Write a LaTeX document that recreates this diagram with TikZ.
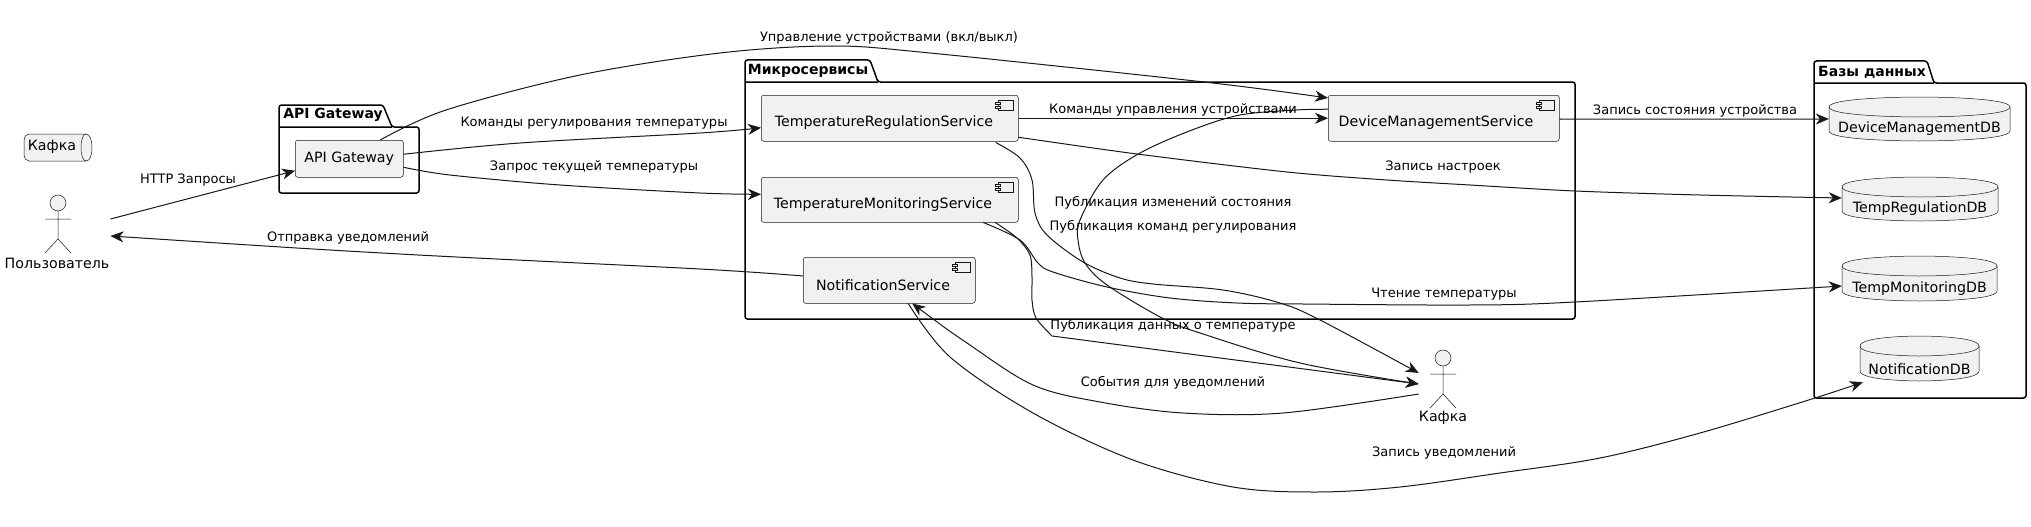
\documentclass[tikz,border=0pt]{standalone}
\usepackage{fontspec}
\setmainfont{DejaVu Sans}
\usetikzlibrary{arrows.meta,calc}
\definecolor{elfill}{HTML}{F1F1F1}
\definecolor{elline}{HTML}{181818}
\tikzset{
  every node/.style={font=\fontsize{14.2}{16}\selectfont,inner sep=0pt,text=black},
  elem/.style={draw=elline,fill=elfill,line width=0.5pt},
  pkg/.style={draw=black,line width=1.5pt,rounded corners=2.5pt},
  pkgtitle/.style={font=\fontsize{14}{16}\selectfont\bfseries},
  boxnode/.style={elem,rounded corners=2.5pt,anchor=north west},
  lbl/.style={font=\fontsize{13}{15}\selectfont},
  edge/.style={draw=elline,line width=1pt,-{Stealth[length=13pt,width=11pt,inset=4pt]}},
  edgerev/.style={draw=elline,line width=1pt,{Stealth[length=13pt,width=11pt,inset=4pt]}-},
}
% main rectangle and two tabs of the component icon, placed from a box's corner
\newcommand\compicon[1]{%
  \begin{scope}[shift={(#1.north east)}]
    \draw[elem] (-20,5) rectangle (-5,15);
    \draw[elem] (-23,7) rectangle (-18.5,9.5);
    \draw[elem] (-23,11) rectangle (-18.5,13.5);
  \end{scope}}
% database drum: x0,y0,x1,y1,name,text,text y
\newcommand\dbdrum[7]{%
  \draw[elem] (#1,#2+10) .. controls (#1,#2) and ({(#1+#3)/2},#2) .. ({(#1+#3)/2},#2)
     .. controls ({(#1+#3)/2},#2) and (#3,#2) .. (#3,#2+10)
     -- (#3,#4-10) .. controls (#3,#4) and ({(#1+#3)/2},#4) .. ({(#1+#3)/2},#4)
     .. controls ({(#1+#3)/2},#4) and (#1,#4) .. (#1,#4-10) -- cycle;
  \draw[elem,fill=none] (#1,#2+10) .. controls (#1,#2+20) and ({(#1+#3)/2},#2+20) .. ({(#1+#3)/2},#2+20)
     .. controls ({(#1+#3)/2},#2+20) and (#3,#2+20) .. (#3,#2+10);
  \node[minimum width={#3-#1},minimum height={#4-#2}] (#5) at ({(#1+#3)/2},{(#2+#4)/2}) {};
  \node (#5T) at ({(#1+#3)/2},#7) {#6};}
\newcommand\actorfig[3]{%
  \draw[elem] (#1,#2) ellipse (8 and 8);
  \draw[draw=elline,line width=0.5pt] (#1,#2+8) -- (#1,#2+36)
    (#1-13,#2+16) -- (#1+13,#2+16)
    (#1-13,#2+50) -- (#1,#2+36) -- (#1+13,#2+50);}
\begin{document}
\begin{tikzpicture}[x=1pt,y=-1pt]
\useasboundingbox[fill=white] (0,0) rectangle (2031,527);

% packages
\draw[pkg] (279,127) -- (279,105) -- (383,105) -- (392,127) -- (419,127) -- (419,193) -- (279,193) -- cycle (279,127) -- (392,127);
\node[pkgtitle] (pApi) at (333,115) {API Gateway};
\draw[pkg] (745,82) -- (745,60) -- (870,60) -- (878,82) -- (1575,82) -- (1575,319) -- (745,319) -- cycle (745,82) -- (878,82);
\node[pkgtitle] (pMicro) at (808,70.5) {Микросервисы};
\draw[pkg] (1814,83) -- (1814,61) -- (1927,61) -- (1934,83) -- (2026,83) -- (2026,398) -- (1814,398) -- cycle (1814,83) -- (1934,83);
\node[pkgtitle] (pDb) at (1872,72) {Базы данных};

% queue
\draw[elem] (29,134) -- (86,134) .. controls (90,134) and (92,140) .. (92,147.5)
   .. controls (92,155) and (90,161) .. (86,161) -- (29,161)
   .. controls (26,161) and (24,158) .. (24,155) -- (24,140) .. controls (24,137) and (26,134) .. (29,134) -- cycle;
\draw[elem,fill=none] (86,134) .. controls (83,134) and (81,140) .. (81,147.5) .. controls (81,155) and (83,161) .. (86,161);
\node (queue) at (52,147) {Кафка};

% actors
\actorfig{58}{203}{}
\node (user) at (57,263) {Пользователь};
\actorfig{1443}{358}{}
\node (kafka) at (1443,417.5) {Кафка};

% boxes
\node[boxnode,minimum width=108pt,minimum height=37pt] (api) at (295,140) {API Gateway};
\node[boxnode,minimum width=257pt,minimum height=46pt] (reg) at (761,95) {};
\node (regT) at (884,123) {TemperatureRegulationService};
\compicon{reg}
\node[boxnode,minimum width=257pt,minimum height=45pt] (mon) at (761,177) {};
\node (monT) at (883,204.5) {TemperatureMonitoringService};
\compicon{mon}
\node[boxnode,minimum width=172pt,minimum height=46pt] (notif) at (803,257) {};
\node (notifT) at (883,285) {NotificationService};
\compicon{notif}
\node[boxnode,minimum width=231pt,minimum height=46pt] (dev) at (1328,95) {};
\node (devT) at (1436,123) {DeviceManagementService};
\compicon{dev}

% databases
\dbdrum{1829}{97}{2010}{141}{dbDev}{DeviceManagementDB}{129}
\dbdrum{1842}{177}{1998}{221}{dbReg}{TempRegulationDB}{209}
\dbdrum{1842}{256}{1997}{301}{dbMon}{TempMonitoringDB}{289}
\dbdrum{1860}{336}{1979}{381}{dbNotif}{NotificationDB}{369}

% connectors
\draw[edge] ($(user.east)+(1,-44)$) -- ($(api.west)+(0,12)$);
\draw[edge] plot[smooth,tension=0.55] coordinates {($(api.north)+(31,0)$) (446,110) (580,75) (720,53) (832,46) (930,53) (1204,82) (dev.west |- 0,98)};
\draw[edge] plot[smooth,tension=0.55] coordinates {($(api.east)+(0,-4.5)$) (520,143) (700,133) ($(reg.west)+(0,9.5)$)};
\draw[edge] plot[smooth,tension=0.55] coordinates {($(api.east)+(0,8.5)$) (450,175) (560,185) (700,193) ($(mon.west)+(0,-5.5)$)};
\draw[edgerev] plot[smooth,tension=0.55] coordinates {($(user.east)+(1,-27)$) (400,254) (700,269) (notif.west |- 0,276)};
\draw[edge] (reg.east) -- (dev.west);
\draw[edge] plot[smooth,tension=0.5] coordinates {($(reg.east)+(0,19)$) (1137,154) (1287,172) (1387,180) (1470,185) (1575,191) (1700,195) (dbReg.west |- 0,198)};
\draw[edge] ($(dev.east)+(0,1)$) -- (dbDev.west |- 0,119);
\draw[edge] plot[smooth,tension=0.55] coordinates {($(reg.south)+(106,1)$) (1020,158) (1032,180) (1035,213) (1047,235) (1083,262) (1120,278) (1153,284) (1223,290) (1280,303) (1320,320) (kafka.west |- 0,373)};
\draw[edge] plot[smooth,tension=0.55] coordinates {($(dev.west)+(0,-9)$) (1296,110) (1240,115) (1192,130) (1140,153) (1103,180) (1080,220) (1078,240) (1085,263) (1107,285) (1162,318) (1200,333) (1300,363) (kafka.west |- 0,384)};
\draw[edge] plot[smooth,tension=0.5] coordinates {($(mon.south)+(105.5,0)$) (1017,238) (1030,255) (1032,277) (1032,300) (1036,318) (1052,336)} -- (kafka.west |- 0,384);
\draw[edge] plot[smooth,tension=0.55] coordinates {($(mon.south)+(93.5,0)$) (1020,240) (1038,263) (1053,272) (1107,287) (1170,298) (1237,303) (1303,304) (1470,305) (1575,302) (dbMon.west |- 0,286)};
\draw[edgerev] plot[smooth,tension=0.55] coordinates {($(notif.south)+(23,0)$) (967,343) (1033,385) (1100,402) (1183,413) (1283,413) (kafka.west |- 0,394)};
\draw[edge] plot[smooth,tension=0.55] coordinates {($(notif.south)+(19,0)$) (950,357) (1033,413) (1133,460) (1233,487) (1317,492) (1400,487) (1500,473) (1600,458) (1700,433) (1815,398) ($(dbNotif.south west)+(3,1)$)};

% connector labels
\node[lbl] (lHttp) at (188,180) {HTTP Запросы};
\node[lbl] (lDev) at (889,38) {Управление устройствами (вкл/выкл)};
\node[lbl] (lCmd) at (594,123) {Команды регулирования температуры};
\node[lbl] (lReq) at (594,167) {Запрос текущей температуры};
\node[lbl] (lSend) at (348,238) {Отправка уведомлений};
\node[lbl] (lCtl) at (1173,110) {Команды управления устройствами};
\node[lbl] (lSet) at (1443,167) {Запись настроек};
\node[lbl] (lState) at (1695,111) {Запись состояния устройства};
\node[lbl] (lPubS) at (1173,203) {Публикация изменений состояния};
\node[lbl] (lPubC) at (1173,227) {Публикация команд регулирования};
\node[lbl] (lRead) at (1444,294) {Чтение температуры};
\node[lbl] (lPubT) at (1173,326) {Публикация данных о температуре};
\node[lbl] (lEv) at (1173,383) {События для уведомлений};
\node[lbl] (lWrite) at (1444,453) {Запись уведомлений};
\end{tikzpicture}
\end{document}
